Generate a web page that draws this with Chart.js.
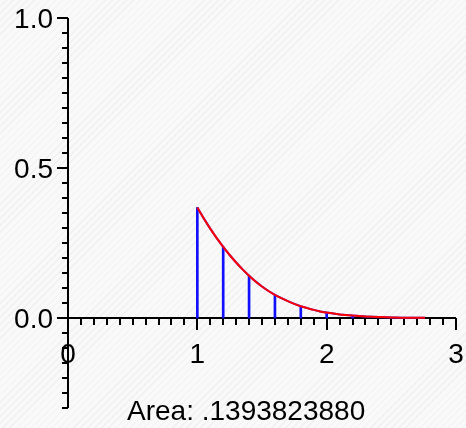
<!DOCTYPE html>
<html>
<head>
<meta charset="utf-8">
<script src="https://cdn.jsdelivr.net/npm/chart.js@4/dist/chart.umd.min.js"></script>
<style>
  html, body {
    margin: 0;
    padding: 0;
  }
  body {
    width: 466px;
    height: 428px;
    background-color: #f9f9f9;
    background-image: repeating-linear-gradient(135deg, #f9f9f9 0px, #f9f9f9 4px, #f0f0f0 4px, #f0f0f0 5px);
  }
  #wrap {
    position: relative;
    width: 466px;
    height: 428px;
  }
</style>
</head>
<body>
<div id="wrap"><canvas id="myChart"></canvas></div>
<script>
// curve
const curveX = [1.00, 1.05, 1.10, 1.15, 1.20, 1.25, 1.30, 1.35, 1.40, 1.45, 1.50, 1.55, 1.60, 1.65, 1.70,
  1.75, 1.80, 1.85, 1.90, 1.95, 2.00, 2.10, 2.20, 2.30, 2.40, 2.50, 2.60, 2.76];
const curveY = [0.368, 0.332, 0.298, 0.266, 0.237, 0.210, 0.185, 0.162, 0.141, 0.122, 0.105, 0.090, 0.077,
  0.066, 0.056, 0.047, 0.039, 0.033, 0.027, 0.022, 0.018, 0.012, 0.008, 0.005, 0.003, 0.002, 0.001, 0.001];

// vertical lines (left endpoints)
const stickX = [1.0, 1.2, 1.4, 1.6, 1.8, 2.0, 2.2, 2.4, 2.6];
const stickY = [0.368, 0.237, 0.141, 0.077, 0.039, 0.018, 0.008, 0.003, 0.001];

const xTickLabels = ["0", "1", "2", "3"];
const yTickLabels = ["0.0", "0.5", "1.0"];
const areaText = "Area: .1393823880";

const textFont = '28px "Liberation Sans", Arial, sans-serif';

const curvePoints = curveX.map((x, i) => ({ x: x, y: curveY[i] }));
const stickPoints = stickX.map((x, i) => ({ x: x, y: stickY[i] }));

// axes through the origin, drawn from the chart's scales
const axesPlugin = {
  id: "mapleAxes",
  beforeDatasetsDraw(chart) {
    const ctx = chart.ctx;
    const xs = chart.scales.x;
    const ys = chart.scales.y;
    const x0 = xs.getPixelForValue(0);
    const y0 = ys.getPixelForValue(0);
    ctx.save();
    ctx.strokeStyle = "#000";
    ctx.fillStyle = "#000";
    ctx.lineWidth = 2;

    // axis lines
    ctx.beginPath();
    ctx.moveTo(x0, ys.getPixelForValue(ys.max));
    ctx.lineTo(x0, ys.getPixelForValue(ys.min));
    ctx.moveTo(x0, y0);
    ctx.lineTo(xs.getPixelForValue(xs.max), y0);
    ctx.stroke();

    // x ticks every 0.1
    ctx.beginPath();
    for (let i = 0; i <= 30; i++) {
      const px = Math.round(xs.getPixelForValue(i / 10));
      const len = i % 10 === 0 ? 12 : 7;
      ctx.moveTo(px, y0);
      ctx.lineTo(px, y0 + len);
    }
    // y ticks every 0.05
    for (let i = -6; i <= 20; i++) {
      const py = Math.round(ys.getPixelForValue(i / 20));
      const len = i % 10 === 0 ? 11 : 6;
      ctx.moveTo(x0, py);
      ctx.lineTo(x0 - len, py);
    }
    ctx.stroke();

    // tick labels
    ctx.font = textFont;
    ctx.textAlign = "center";
    ctx.textBaseline = "middle";
    xTickLabels.forEach((t) => {
      ctx.fillText(t, xs.getPixelForValue(Number(t)), y0 + 37);
    });
    ctx.textAlign = "right";
    yTickLabels.forEach((t) => {
      ctx.fillText(t, x0 - 15, ys.getPixelForValue(Number(t)) + 2);
    });

    // area caption
    ctx.textAlign = "left";
    ctx.textBaseline = "alphabetic";
    ctx.fillText(areaText, 127, 420);
    ctx.restore();
  },
};

const config = {
  data: {
    datasets: [
      {
        type: "bar",
        data: stickPoints,
        backgroundColor: "#1010ff",
        barThickness: 2,
        order: 3,
      },
      {
        type: "line",
        data: curvePoints,
        borderColor: "#2020ff",
        borderWidth: 2,
        pointRadius: 0,
        tension: 0,
        order: 2,
      },
      {
        type: "line",
        data: curvePoints,
        borderColor: "#ff0000",
        borderWidth: 2,
        pointRadius: 0,
        tension: 0.3,
        order: 1,
      },
    ],
  },
  options: {
    responsive: true,
    maintainAspectRatio: false,
    animation: false,
    layout: {
      padding: { left: 68, right: 10, top: 18, bottom: 20 },
    },
    scales: {
      x: { type: "linear", min: 0, max: 3, offset: false, display: false },
      y: { type: "linear", min: -0.3, max: 1.0, display: false },
    },
    plugins: {
      legend: { display: false },
      tooltip: { enabled: false },
    },
  },
  plugins: [axesPlugin],
};

new Chart(document.getElementById("myChart"), config);
</script>
</body>
</html>
